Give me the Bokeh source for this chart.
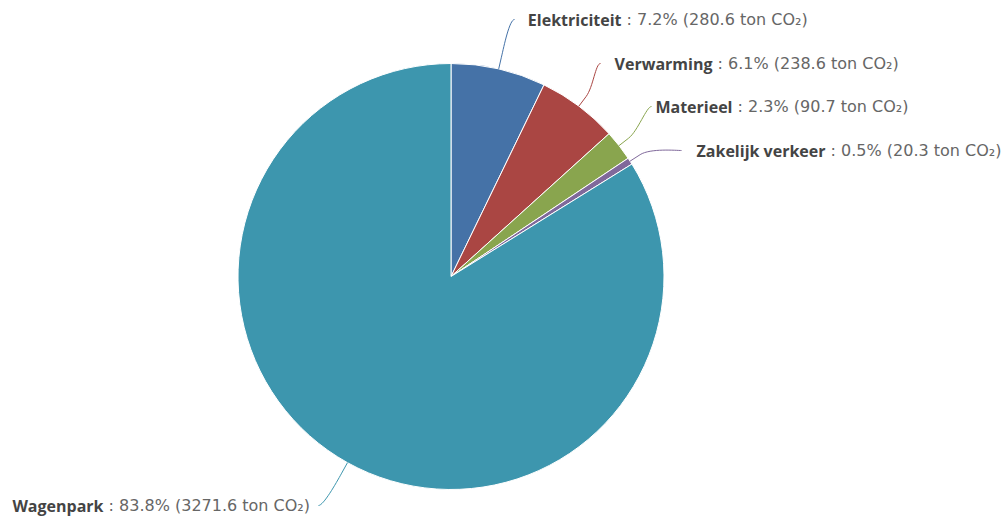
import math
from bokeh.plotting import figure
from bokeh.models import Range1d, ColumnDataSource
from bokeh.core.properties import value
from bokeh.embed import file_html
from bokeh.resources import INLINE

# ---- data ----
categories = ["Elektriciteit", "Verwarming", "Materieel", "Zakelijk verkeer", "Wagenpark"]
emissions = [280.6, 238.6, 90.7, 20.3, 3271.6]
colors = ["#4572A7", "#AA4643", "#89A54E", "#80699B", "#3D96AE"]
unit = "ton CO\u2082"

# ---- layout (window pixel coordinates) ----
W, H = 1008, 517
CX, CY, R = 450.5, 276.0, 213.0
label_join_x = [621, 712, 732, 825, 103]
label_y = [19, 63, 106, 150, 505]
connector_end_x = [514, 600, 651, 681, 318]
side = [1, 1, 1, 1, -1]
BREAK = 12


def px(X):
    return X


def py(Y):
    return H - Y


total = sum(emissions)
fracs = [v / total for v in emissions]
cum = [0.0]
for f in fracs:
    cum.append(cum[-1] + f)

start_angles = [math.pi / 2 - 2 * math.pi * cum[i] for i in range(len(fracs))]
end_angles = [math.pi / 2 - 2 * math.pi * cum[i + 1] for i in range(len(fracs))]

p = figure(width=W, height=H, x_range=Range1d(0, W), y_range=Range1d(0, H),
           output_backend="svg", toolbar_location=None, min_border=0,
           x_axis_location=None, y_axis_location=None)
p.grid.visible = False
p.outline_line_color = None
p.background_fill_color = "white"
p.border_fill_color = "white"

src = ColumnDataSource(dict(start=start_angles, end=end_angles, color=colors, cat=categories))
p.wedge(x=px(CX), y=py(CY), radius=R, radius_units="screen",
        start_angle="start", end_angle="end", direction="clock",
        fill_color="color", line_color="white", line_width=1, source=src)

# connectors
bx0, by0, bx1, by1, bcx0, bcy0, bcx1, bcy1 = [], [], [], [], [], [], [], []
sx0, sy0, sx1, sy1 = [], [], [], []
for i in range(len(fracs)):
    theta = 2 * math.pi * (cum[i] + cum[i + 1]) / 2
    ux, uy = math.sin(theta), -math.cos(theta)
    ex, ey = CX + R * ux, CY + R * uy
    brx, bry = ex + BREAK * ux, ey + BREAK * uy
    c2x, c2y = ex + 2 * BREAK * ux, ey + 2 * BREAK * uy
    lx, ly = connector_end_x[i], label_y[i]
    c1x, c1y = lx - 5 * side[i], ly
    bx0.append(px(lx)); by0.append(py(ly))
    bcx0.append(px(c1x)); bcy0.append(py(c1y))
    bcx1.append(px(c2x)); bcy1.append(py(c2y))
    bx1.append(px(brx)); by1.append(py(bry))
    sx0.append(px(brx)); sy0.append(py(bry))
    sx1.append(px(ex)); sy1.append(py(ey))

p.bezier(x0=bx0, y0=by0, x1=bx1, y1=by1, cx0=bcx0, cy0=bcy0, cx1=bcx1, cy1=bcy1,
         line_color=colors, line_width=1)
p.segment(x0=sx0, y0=sy0, x1=sx1, y1=sy1, line_color=colors, line_width=1)

# labels
bold_text = categories
rest_text = [f"\u00a0: {f * 100:.1f}% ({v:.1f} {unit})" for f, v in zip(fracs, emissions)]
lx = [px(x) for x in label_join_x]
ly = [py(y) for y in label_y]
p.text(x=lx, y=ly, text=bold_text, text_align="right", text_baseline="middle",
       text_font=value("Open Sans"), text_font_style="bold", text_font_size="16px",
       text_color="#444444")
p.text(x=lx, y=ly, text=rest_text, text_align="left", text_baseline="middle",
       text_font=value("DejaVu Sans"), text_font_size="16px", text_color="#666666")

open("out.html", "w").write(file_html(p, INLINE))
